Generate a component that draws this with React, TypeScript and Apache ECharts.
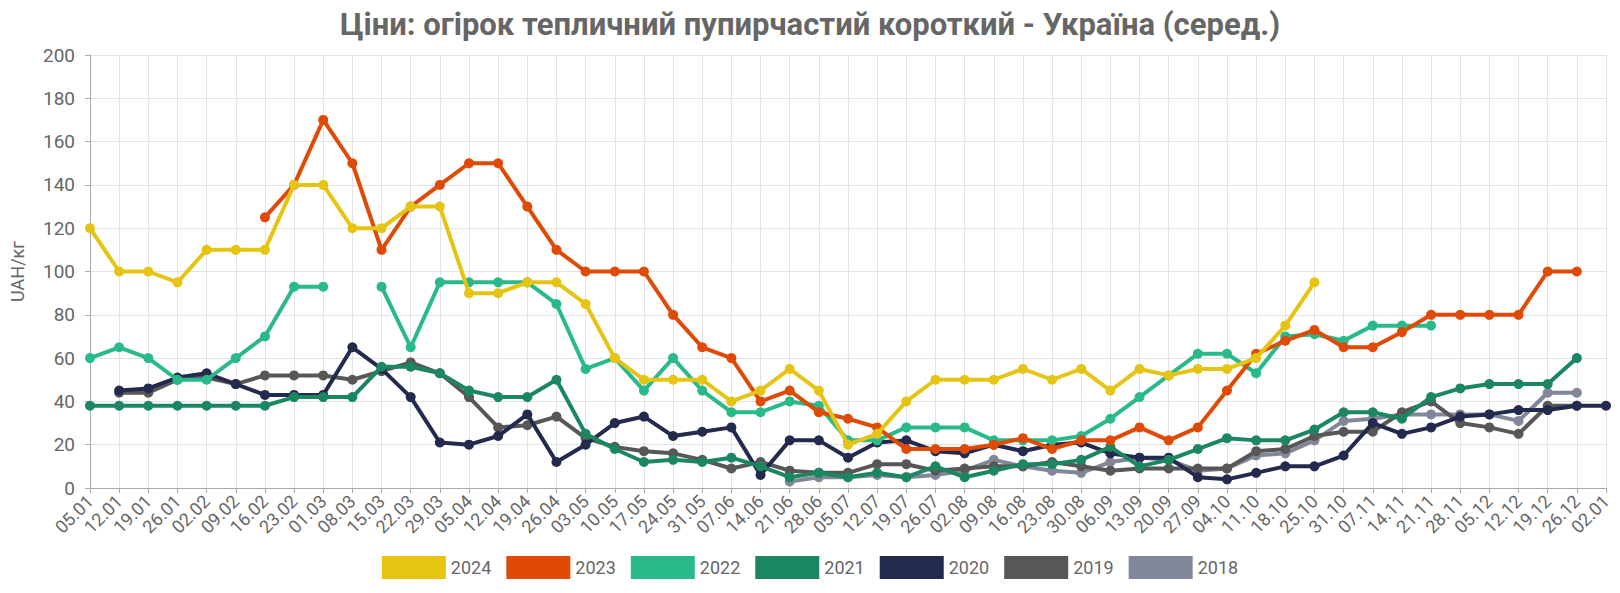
import * as React from "react";
import * as echarts from "echarts";
import { useEffect, useRef } from "react";

const weeks = [
  "05.01", "12.01", "19.01", "26.01", "02.02", "09.02", "16.02", "23.02", "01.03", "08.03",
  "15.03", "22.03", "29.03", "05.04", "12.04", "19.04", "26.04", "03.05", "10.05", "17.05",
  "24.05", "31.05", "07.06", "14.06", "21.06", "28.06", "05.07", "12.07", "19.07", "26.07",
  "02.08", "09.08", "16.08", "23.08", "30.08", "06.09", "13.09", "20.09", "27.09", "04.10",
  "11.10", "18.10", "25.10", "31.10", "07.11", "14.11", "21.11", "28.11", "05.12", "12.12",
  "19.12", "26.12", "02.01",
];

const y2024 = [
  120, 100, 100, 95, 110, 110, 110, 140, 140, 120, 120, 130, 130, 90, 90, 95, 95, 85, 60, 50,
  50, 50, 40, 45, 55, 45, 20, 25, 40, 50, 50, 50, 55, 50, 55, 45, 55, 52, 55, 55,
  60, 75, 95, null, null, null, null, null, null, null, null, null, null,
];
const y2023 = [
  null, null, null, null, null, null, 125, 140, 170, 150, 110, 130, 140, 150, 150, 130, 110, 100, 100, 100,
  80, 65, 60, 40, 45, 35, 32, 28, 18, 18, 18, 20, 23, 18, 22, 22, 28, 22, 28, 45,
  62, 68, 73, 65, 65, 72, 80, 80, 80, 80, 100, 100, null,
];
const y2022 = [
  60, 65, 60, 50, 50, 60, 70, 93, 93, null, 93, 65, 95, 95, 95, 95, 85, 55, 60, 45,
  60, 45, 35, 35, 40, 38, 22, 22, 28, 28, 28, 22, 22, 22, 24, 32, 42, 52, 62, 62,
  53, 70, 71, 68, 75, 75, 75, null, null, null, null, null, null,
];
const y2021 = [
  38, 38, 38, 38, 38, 38, 38, 42, 42, 42, 56, 56, 53, 45, 42, 42, 50, 25, 18, 12,
  13, 12, 14, 10, 5, 7, 5, 7, 5, 10, 5, 8, 11, 11, 13, 19, 10, 13, 18, 23,
  22, 22, 27, 35, 35, 32, 42, 46, 48, 48, 48, 60, null,
];
const y2020 = [
  null, 45, 46, 51, 53, 48, 43, 43, 43, 65, 55, 42, 21, 20, 24, 34, 12, 20, 30, 33,
  24, 26, 28, 6, 22, 22, 14, 21, 22, 17, 16, 20, 17, 20, 21, 16, 14, 14, 5, 4,
  7, 10, 10, 15, 30, 25, 28, 33, 34, 36, 36, 38, 38,
];
const y2019 = [
  null, 44, 44, 50, 51, 48, 52, 52, 52, 50, 54, 58, 53, 42, 28, 29, 33, 23, 19, 17,
  16, 13, 9, 12, 8, 7, 7, 11, 11, 8, 9, 10, 10, 12, 10, 8, 9, 9, 9, 9,
  17, 18, 24, 26, 26, 35, 40, 30, 28, 25, 38, 38, null,
];
const y2018 = [
  null, null, null, null, null, null, null, null, null, null, null, null, null, null, null, null, null, null, null, null,
  null, null, null, null, 3, 5, 5, 6, 5, 6, 8, 13, 10, 8, 7, 12, 14, 13, 8, 9,
  15, 16, 22, 31, 32, 34, 34, 34, 34, 31, 44, 44, null,
];

const years = ["2024", "2023", "2022", "2021", "2020", "2019", "2018"];
const values = [y2024, y2023, y2022, y2021, y2020, y2019, y2018];
const colors = ["#e5c414", "#e04a07", "#2ab98a", "#1b8761", "#232a4e", "#575757", "#818799"];

const App = () => {
  const chartRef = useRef<HTMLDivElement>(null);

  useEffect(() => {
    if (!chartRef.current) return;
    const chart = echarts.init(chartRef.current, null, { renderer: "svg" });

    const option = {
      animation: false,
      color: colors,
      textStyle: { fontFamily: "Roboto" },
      title: {
        text: "Ціни: огірок тепличний пупирчастий короткий - Україна (серед.)",
        left: "center",
        top: 4,
        textStyle: { fontSize: 31, fontWeight: "bold", color: "#666", fontFamily: "Roboto" },
      },
      legend: {
        bottom: 9,
        left: "center",
        icon: "rect",
        itemWidth: 64,
        itemHeight: 23,
        itemGap: 15,
        textStyle: { fontSize: 18, color: "#666" },
        data: years,
      },
      grid: { left: 85, right: 14, top: 55, bottom: 105 },
      xAxis: {
        type: "category",
        boundaryGap: false,
        data: weeks,
        axisLine: { lineStyle: { color: "#aaa" } },
        axisTick: { show: true, lineStyle: { color: "#aaa" } },
        axisLabel: { rotate: 45, interval: 0, fontSize: 18, color: "#666", margin: 10 },
        splitLine: { show: true, lineStyle: { color: "#e3e3e3" } },
      },
      yAxis: {
        type: "value",
        min: 0,
        max: 200,
        interval: 20,
        name: "UAH/кг",
        nameLocation: "middle",
        nameGap: 64,
        nameTextStyle: { fontSize: 18, color: "#666" },
        axisLine: { show: true, lineStyle: { color: "#aaa" } },
        axisTick: { show: true, lineStyle: { color: "#aaa" } },
        axisLabel: { fontSize: 19, color: "#666", margin: 15 },
        splitLine: { lineStyle: { color: "#e3e3e3" } },
      },
      series: years.map((y, k) => ({
        name: y,
        type: "line",
        data: values[k],
        z: 10 - k,
        symbol: "circle",
        symbolSize: 10,
        showAllSymbol: true,
        lineStyle: { width: 4 },
        itemStyle: { color: colors[k] },
      })),
    };

    chart.setOption(option as any);
    return () => {
      chart.dispose();
    };
  }, []);

  return (
    <div
      ref={chartRef}
      style={{ position: "fixed", left: 0, top: 0, width: 1620, height: 593, background: "#fff" }}
    />
  );
};

export default App;
